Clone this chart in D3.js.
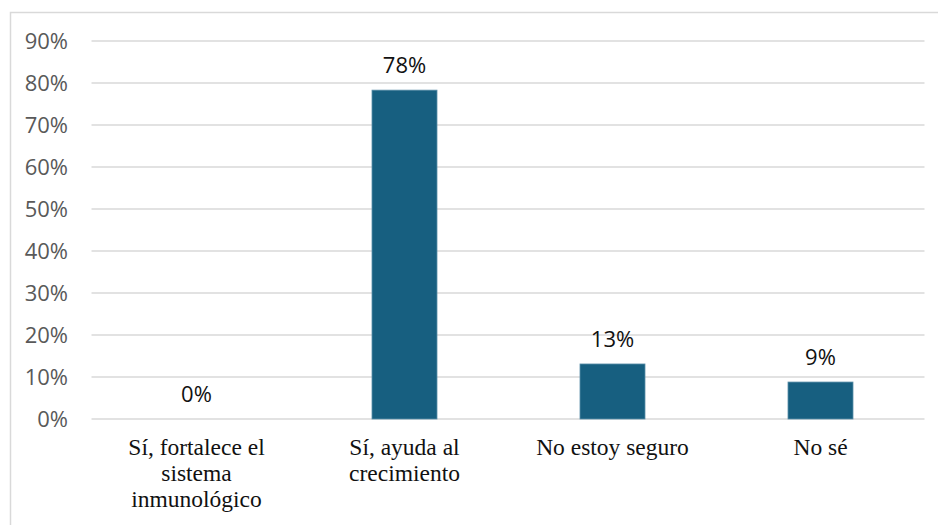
<!DOCTYPE html>
<html>
<head>
<meta charset="utf-8">
<script src="https://cdn.jsdelivr.net/npm/d3@7/dist/d3.min.js"></script>
<style>
  html, body { margin: 0; padding: 0; background: #fff; }
  svg { display: block; }
</style>
</head>
<body>
<svg id="chart" width="938" height="525"></svg>
<script>
// Survey answers and their shares (percent)
const categories = [
  ["Sí, fortalece el", "sistema", "inmunológico"],
  ["Sí, ayuda al", "crecimiento"],
  ["No estoy seguro"],
  ["No sé"]
];
const values = [0, 78.3, 13.1, 8.8];
const valueLabels = ["0%", "78%", "13%", "9%"];
const yTicks = [0, 10, 20, 30, 40, 50, 60, 70, 80, 90];

const svg = d3.select("#chart");
const W = 938, H = 525;
const plot = { left: 92.5, right: 924.5, top: 41, bottom: 419 };

// outer frame (top and left edges visible)
svg.append("path")
  .attr("d", `M10.5,${H} V12.5 H${W}`)
  .attr("fill", "none")
  .attr("stroke", "#d9d9d9")
  .attr("stroke-width", 1.5);

const x = d3.scaleBand()
  .domain(d3.range(categories.length))
  .range([plot.left, plot.right])
  .paddingInner(0.6875)
  .paddingOuter(0.34375);

const y = d3.scaleLinear().domain([0, 90]).range([plot.bottom, plot.top]);

// gridlines
svg.append("g")
  .selectAll("line")
  .data(yTicks)
  .join("line")
  .attr("x1", plot.left - 1)
  .attr("x2", plot.right)
  .attr("y1", d => y(d))
  .attr("y2", d => y(d))
  .attr("stroke", "#d9d9d9")
  .attr("stroke-width", 1.5);

// y-axis tick labels
const yAxis = d3.axisLeft(y)
  .tickValues(yTicks)
  .tickFormat(d => d + "%")
  .tickSize(0)
  .tickPadding(0);
const yg = svg.append("g")
  .attr("transform", `translate(68,0)`)
  .call(yAxis);
yg.select(".domain").remove();
yg.selectAll("text")
  .attr("fill", "#595959")
  .attr("font-family", "'Open Sans', 'Noto Sans', sans-serif")
  .attr("font-size", 22);

// bars
svg.append("g")
  .selectAll("rect")
  .data(values)
  .join("rect")
  .attr("x", (d, i) => x(i))
  .attr("width", x.bandwidth())
  .attr("y", d => y(d))
  .attr("height", d => y(0) - y(d))
  .attr("fill", "#175f80")
  .attr("stroke", d => d > 0 ? "#5b8ea8" : "none")
  .attr("stroke-width", 0.8);

// value labels above each bar
svg.append("g")
  .selectAll("text")
  .data(values)
  .join("text")
  .attr("x", (d, i) => x(i) + x.bandwidth() / 2)
  .attr("y", d => y(d) - 25)
  .attr("dy", "0.35em")
  .attr("text-anchor", "middle")
  .attr("fill", "#111")
  .attr("font-family", "'Open Sans', 'Noto Sans', sans-serif")
  .attr("font-size", 22)
  .text((d, i) => valueLabels[i]);

// category labels
const cat = svg.append("g")
  .selectAll("text")
  .data(categories)
  .join("text")
  .attr("x", (d, i) => x(i) + x.bandwidth() / 2)
  .attr("y", 447)
  .attr("text-anchor", "middle")
  .attr("fill", "#111")
  .attr("font-family", "'Liberation Serif', 'Times New Roman', serif")
  .attr("font-size", 23.5);
cat.selectAll("tspan")
  .data((d, i) => d.map(t => ({ t, i })))
  .join("tspan")
  .attr("x", d => x(d.i) + x.bandwidth() / 2)
  .attr("dy", (d, j) => j === 0 ? "0.35em" : "26")
  .text(d => d.t);
</script>
</body>
</html>
